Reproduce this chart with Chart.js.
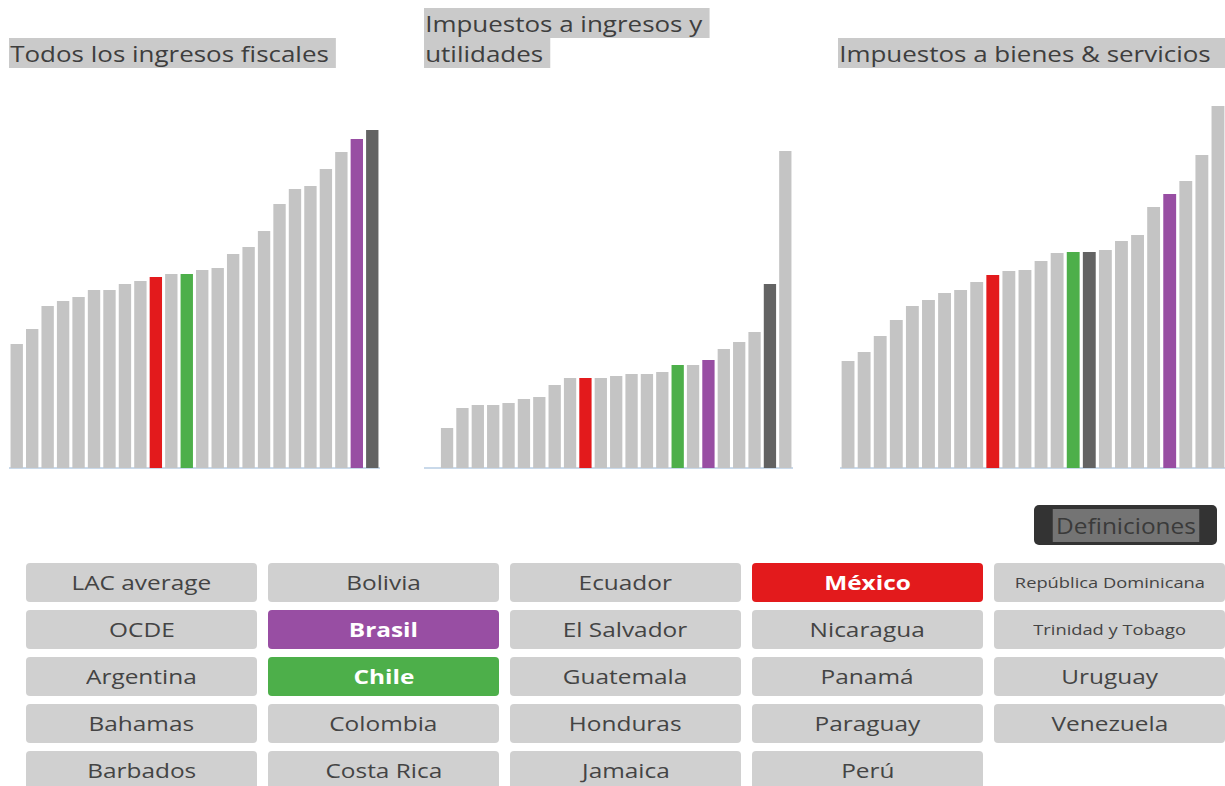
<!DOCTYPE html>
<html lang="es">
<head>
<meta charset="utf-8">
<title>Ingresos fiscales</title>
<script src="https://cdn.jsdelivr.net/npm/chart.js@4.4.1/dist/chart.umd.min.js"></script>
<style>
    html, body {
        margin: 0;
        padding: 0;
        width: 1225px;
        height: 786px;
        overflow: hidden;
        background: #ffffff;
        font-family: "Open Sans", "DejaVu Sans", sans-serif;
    }
    .title {
        position: absolute;
        font-size: 22px;
        line-height: 30px;
        color: #3e3e3e;
        white-space: nowrap;
    }
    .title span {
        display: inline-block;
        background: #cacaca;
        padding: 0 6px 0 1px;
        transform: scaleX(1.18);
        transform-origin: left center;
    }
    .title span.wide {
        padding-right: 12px;
    }
    .plot {
        position: absolute;
    }
    #defBtn {
        position: absolute;
        left: 1034px;
        top: 505px;
        width: 183px;
        height: 40px;
        background: #333333;
        border-radius: 5px;
        display: flex;
        align-items: center;
        justify-content: center;
    }
    #defBtn span {
        display: block;
        background: #747474;
        color: #3a3a3a;
        font-size: 22px;
        line-height: 33px;
        padding: 0 3px;
        transform: scaleX(1.11);
    }
    #countryGrid {
        position: absolute;
        left: 26px;
        top: 563px;
        display: grid;
        grid-template-columns: repeat(5, 231px);
        grid-template-rows: repeat(5, 39px);
        grid-auto-flow: column;
        column-gap: 11px;
        row-gap: 8px;
    }
    .country-btn {
        background: #d0d0d0;
        border-radius: 4px;
        color: #444444;
        font-size: 20px;
        text-align: center;
        line-height: 39px;
        white-space: nowrap;
    }
    .country-btn span {
        display: inline-block;
        transform: scaleX(1.22);
    }
    .country-btn.small {
        font-size: 15px;
    }
    .country-btn.on {
        color: #ffffff;
        font-weight: 700;
    }
</style>
</head>
<body>

<div class="title" style="left:9px; top:38px;"><span>Todos los ingresos fiscales</span></div>
<div class="title" style="left:424px; top:8px;"><span>Impuestos a ingresos y</span><br><span>utilidades</span></div>
<div class="title" style="left:838px; top:38px;"><span class="wide">Impuestos a bienes &amp; servicios</span></div>

<canvas id="totalChart"  class="plot" width="371" height="370" style="left:9px;   top:100px;"></canvas>
<canvas id="incomeChart" class="plot" width="369" height="370" style="left:424px; top:100px;"></canvas>
<canvas id="goodsChart"  class="plot" width="386" height="370" style="left:840px; top:100px;"></canvas>

<div id="defBtn"><span>Definiciones</span></div>
<div id="countryGrid"></div>

<script>
(function () {
    'use strict';

    // -----------------------------------------------------------------------
    // Data (bars are sorted low -> high; only highlighted ones are named)
    // -----------------------------------------------------------------------
    const TOTAL_LABELS = ['', '', '', '', '', '', '', '', '', 'México', '', 'Chile',
                          '', '', '', '', '', '', '', '', '', '', 'Brasil', 'OCDE'];
    const TOTAL_VALUES = [12.4, 13.9, 16.2, 16.7, 17.1, 17.8, 17.8, 18.4, 18.7, 19.1, 19.4, 19.4,
                          19.8, 20.0, 21.4, 22.1, 23.7, 26.4, 27.9, 28.2, 29.9, 31.6, 32.9, 33.8];

    const INCOME_LABELS = ['', '', '', '', '', '', '', '', '', '', 'México', '',
                           '', '', '', '', 'Chile', '', 'Brasil', '', '', '', 'OCDE', ''];
    const INCOME_VALUES = [0, 4.0, 6.0, 6.3, 6.3, 6.5, 6.9, 7.1, 8.3, 9.0, 9.0, 9.0,
                           9.2, 9.4, 9.4, 9.6, 10.3, 10.3, 10.8, 11.9, 12.6, 13.6, 18.4, 31.7];

    const GOODS_LABELS = ['', '', '', '', '', '', '', '', '', 'México', '', '',
                          '', '', 'Chile', 'OCDE', '', '', '', '', 'Brasil', '', '', ''];
    const GOODS_VALUES = [10.7, 11.6, 13.2, 14.8, 16.2, 16.8, 17.5, 17.8, 18.6, 19.3, 19.7, 19.8,
                          20.7, 21.5, 21.6, 21.6, 21.8, 22.7, 23.3, 26.1, 27.4, 28.7, 31.3, 36.2];

    const Y_MAX = 36.8;

    // Country selector, column by column
    const COUNTRY_COLUMNS = [
        ['LAC average', 'OCDE', 'Argentina', 'Bahamas', 'Barbados'],
        ['Bolivia', 'Brasil', 'Chile', 'Colombia', 'Costa Rica'],
        ['Ecuador', 'El Salvador', 'Guatemala', 'Honduras', 'Jamaica'],
        ['México', 'Nicaragua', 'Panamá', 'Paraguay', 'Perú'],
        ['República Dominicana', 'Trinidad y Tobago', 'Uruguay', 'Venezuela']
    ];
    const SELECTED = ['México', 'Brasil', 'Chile'];
    const SMALL_LABELS = ['República Dominicana', 'Trinidad y Tobago'];

    // -----------------------------------------------------------------------
    // Colours
    // -----------------------------------------------------------------------
    const HIGHLIGHT = {
        'México': '#e31a1c',
        'Chile':  '#4daf4a',
        'Brasil': '#984ea3',
        'OCDE':   '#636363'
    };
    const BAR_GREY = '#c4c4c4';

    function colorFor(label) {
        return HIGHLIGHT[label] || BAR_GREY;
    }

    // -----------------------------------------------------------------------
    // Charts
    // -----------------------------------------------------------------------
    function makeBarChart(canvasId, labels, values) {
        return new Chart(document.getElementById(canvasId), {
            type: 'bar',
            data: {
                labels: labels,
                datasets: [{
                    data: values,
                    backgroundColor: labels.map(colorFor),
                    borderWidth: 0,
                    barPercentage: 0.8,
                    categoryPercentage: 1.0
                }]
            },
            options: {
                responsive: false,
                animation: false,
                layout: { padding: { top: 0, bottom: 2, left: 0, right: 0 } },
                plugins: {
                    legend: { display: false },
                    tooltip: { enabled: false }
                },
                scales: {
                    x: {
                        grid: { display: false, drawTicks: false },
                        ticks: { display: false },
                        border: { display: true, color: '#c9d9ea', width: 2 }
                    },
                    y: {
                        display: false,
                        min: 0,
                        max: Y_MAX
                    }
                }
            }
        });
    }

    makeBarChart('totalChart', TOTAL_LABELS, TOTAL_VALUES);
    makeBarChart('incomeChart', INCOME_LABELS, INCOME_VALUES);
    makeBarChart('goodsChart', GOODS_LABELS, GOODS_VALUES);

    // -----------------------------------------------------------------------
    // Country buttons
    // -----------------------------------------------------------------------
    const grid = document.getElementById('countryGrid');
    COUNTRY_COLUMNS.forEach(function (col) {
        col.forEach(function (name) {
            const btn = document.createElement('div');
            const txt = document.createElement('span');
            btn.className = 'country-btn';
            txt.textContent = name;
            btn.appendChild(txt);
            if (SMALL_LABELS.indexOf(name) !== -1) btn.classList.add('small');
            if (SELECTED.indexOf(name) !== -1) {
                btn.classList.add('on');
                btn.style.background = HIGHLIGHT[name];
            }
            grid.appendChild(btn);
        });
    });
})();
</script>
</body>
</html>
